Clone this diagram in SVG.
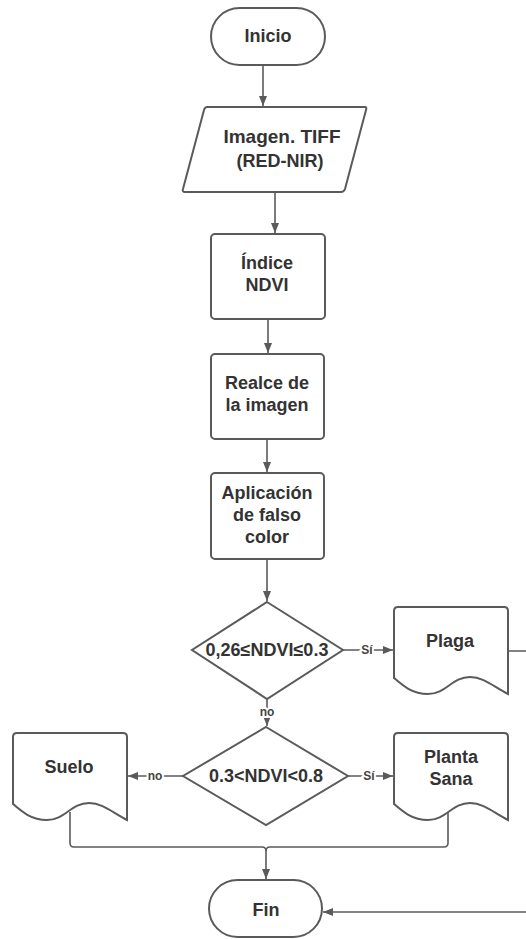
<svg xmlns="http://www.w3.org/2000/svg" xmlns:xlink="http://www.w3.org/1999/xlink" width="526" height="939" viewBox="0 0 526 939">
  <style>
    .shape { fill: #ffffff; stroke: #5a5a5a; stroke-width: 2; }
    .label { font-family: "Liberation Sans", Arial, sans-serif; font-weight: bold; font-size: 18px; fill: #333333; text-anchor: middle; }
    .edge { fill: none; stroke: #5a5a5a; stroke-width: 1.6; }
    .tag { font-family: "Liberation Sans", Arial, sans-serif; font-weight: bold; font-size: 12px; fill: #444444; text-anchor: middle; paint-order: stroke; stroke: #ffffff; stroke-width: 4px; }
  </style>
  <defs>
    <marker id="arrow" markerUnits="userSpaceOnUse" markerWidth="10" markerHeight="10" viewBox="0 0 10 10" refX="10" refY="5" orient="auto">
      <path d="M0,1 L10,5 L0,9 Z" fill="#5a5a5a"/>
    </marker>
    <!-- document shape with wavy bottom, 114 wide -->
    <path id="doc" d="M0,71 V4 Q0,0 4,0 H110 Q114,0 114,4 V87 C100,80 90,70 76,70 C58,70 52,87 34,87 C18,87 8,78 0,71 Z"/>
  </defs>
  <rect width="526" height="939" fill="#ffffff"/>

  <g id="connectors">
    <path class="edge" d="M263,65 V106" marker-end="url(#arrow)"/>
    <path class="edge" d="M275,192 V233" marker-end="url(#arrow)"/>
    <path class="edge" d="M268,319 V353" marker-end="url(#arrow)"/>
    <path class="edge" d="M267,439 V472" marker-end="url(#arrow)"/>
    <path class="edge" d="M267,559 V601" marker-end="url(#arrow)"/>
    <path class="edge" d="M267,699 V726" marker-end="url(#arrow)"/>
    <text class="tag" x="267" y="716">no</text>
    <path class="edge" d="M343,650 H393" marker-end="url(#arrow)"/>
    <text class="tag" x="367" y="654">Sí</text>
    <path class="edge" d="M183,776 H128" marker-end="url(#arrow)"/>
    <text class="tag" x="155" y="780">no</text>
    <path class="edge" d="M348,776 H393" marker-end="url(#arrow)"/>
    <text class="tag" x="369" y="780">Sí</text>
    <path class="edge" d="M70,812 V843 Q70,847 74,847 H262 Q266,847 266,851 V879" marker-end="url(#arrow)"/>
    <path class="edge" d="M448,812 V843 Q448,847 444,847 H270 Q266,847 266,851"/>
    <path class="edge" d="M508,651 H545 V912 H323" marker-end="url(#arrow)"/>
  </g>

  <g id="inicio">
    <rect class="shape" x="211" y="8" width="114" height="57" rx="28.5"/>
    <text class="label" x="268" y="42">Inicio</text>
  </g>

  <g id="imagen">
    <path class="shape" d="M207,107 H365 Q367,107 366,110 L345,189 Q344,192 341,192 H185 Q182,192 183,189 L204,110 Q205,107 207,107 Z"/>
    <text class="label" x="282" y="143" style="font-size:19px">Imagen. TIFF</text>
    <text class="label" x="280" y="167">(RED-NIR)</text>
  </g>

  <g id="indice">
    <rect class="shape" x="211" y="234" width="114" height="85" rx="4"/>
    <text class="label" x="267" y="269">Índice</text>
    <text class="label" x="267" y="291">NDVI</text>
  </g>

  <g id="realce">
    <rect class="shape" x="211" y="354" width="113" height="85" rx="4"/>
    <text class="label" x="267" y="389">Realce de</text>
    <text class="label" x="267" y="411">la imagen</text>
  </g>

  <g id="falso-color">
    <rect class="shape" x="211" y="473" width="113" height="86" rx="4"/>
    <text class="label" x="267" y="499">Aplicación</text>
    <text class="label" x="267" y="521">de falso</text>
    <text class="label" x="267" y="543">color</text>
  </g>

  <g id="decision-plaga">
    <path class="shape" d="M267,602 L343,650 L267,699 L192,650 Z"/>
    <text class="label" x="267" y="656">0,26≤NDVI≤0.3</text>
  </g>

  <g id="plaga">
    <use class="shape" xlink:href="#doc" x="394" y="607"/>
    <text class="label" x="450" y="647">Plaga</text>
  </g>

  <g id="decision-sana">
    <path class="shape" d="M266,727 L348,776 L266,825 L183,776 Z"/>
    <text class="label" x="266" y="782">0.3&lt;NDVI&lt;0.8</text>
  </g>

  <g id="suelo">
    <use class="shape" xlink:href="#doc" x="13" y="733"/>
    <text class="label" x="69" y="773">Suelo</text>
  </g>

  <g id="planta-sana">
    <use class="shape" xlink:href="#doc" x="394" y="733"/>
    <text class="label" x="451" y="763">Planta</text>
    <text class="label" x="451" y="785">Sana</text>
  </g>

  <g id="fin">
    <rect class="shape" x="209" y="880" width="113" height="57" rx="28.5"/>
    <text class="label" x="266" y="916">Fin</text>
  </g>
</svg>
